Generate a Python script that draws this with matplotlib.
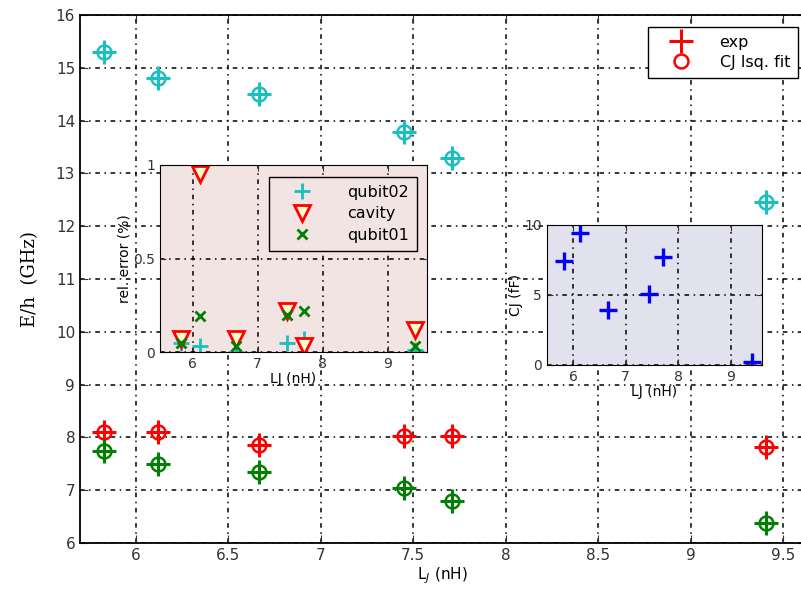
import matplotlib
matplotlib.use('Agg')
import matplotlib.pyplot as plt
from matplotlib.lines import Line2D

# data
lj = [5.83, 6.12, 6.67, 7.45, 7.71, 9.41]
e_qubit02 = [15.3, 14.8, 14.5, 13.78, 13.29, 12.46]
e_cavity = [8.1, 8.1, 7.85, 8.02, 8.02, 7.82]
e_qubit01 = [7.75, 7.5, 7.35, 7.05, 6.8, 6.38]

err_qubit02 = [0.05, 0.03, 0.0, 0.05, 0.07, 0.01]
err_cavity = [0.07, 0.95, 0.07, 0.22, 0.03, 0.12]
err_qubit01 = [0.05, 0.19, 0.03, 0.2, 0.22, 0.03]

cj = [7.4, 9.4, 3.9, 5.1, 7.7, 0.2]

cyan = (0.1, 0.75, 0.75)
red = (1.0, 0.0, 0.0)
green = (0.0, 0.5, 0.0)
blue = (0.0, 0.0, 1.0)
grid_ls = (0, (3, 3, 1, 3))

plt.rcParams['font.family'] = 'DejaVu Sans'
fig = plt.figure(figsize=(8.01, 5.98), dpi=100)

# main axes
ax = fig.add_axes([80 / 801, 55 / 598, 725 / 801, 528 / 598])
for y, c in [(e_qubit02, cyan), (e_cavity, red), (e_qubit01, green)]:
    ax.plot(lj, y, ls='none', marker='+', ms=17, mew=2.2, color=c)
    ax.plot(lj, y, ls='none', marker='o', ms=10, mew=1.8, mfc='none', color=c)
ax.set_xlim(5.7, 5.7 + 725 / 185)
ax.set_ylim(6, 16)
ax.set_xticks([6, 6.5, 7, 7.5, 8, 8.5, 9, 9.5])
ax.set_xticklabels(['6', '6.5', '7', '7.5', '8', '8.5', '9', '9.5'])
ax.set_yticks(range(6, 17))
ax.tick_params(direction='in', top=True, right=True, length=6, labelsize=11, colors='#333333')
ax.grid(True, color='black', linestyle=grid_ls, linewidth=1.1)
ax.set_xlabel('L$_J$ (nH)', fontsize=11, labelpad=2)
ax.set_ylabel('E/h  (GHz)', fontsize=13, family='DejaVu Serif', labelpad=12)
for s in ax.spines.values():
    s.set_linewidth(1.3)
handles = [Line2D([], [], ls='none', marker='+', ms=17, mew=2.2, color=red),
           Line2D([], [], ls='none', marker='o', ms=10, mew=1.8, mfc='none', color=red)]
ax.legend(handles, ['exp', 'CJ lsq. fit'], loc='upper right',
          bbox_to_anchor=(798 / 801, 1 - 27 / 598), bbox_transform=fig.transFigure,
          borderaxespad=0, fancybox=False, edgecolor='black', framealpha=1, fontsize=11.5,
          handlelength=3.2, handletextpad=0.8, borderpad=0.5, labelspacing=0.3)

# inset 1: relative error
ax1 = fig.add_axes([160 / 801, 246 / 598, 267 / 801, 187 / 598])
ax1.set_facecolor('#f3e4e4')
ax1.plot(lj, err_qubit02, ls='none', marker='+', ms=11, mew=2, color=cyan, label='qubit02')
ax1.plot(lj, err_cavity, ls='none', marker='v', ms=11, mew=2, mfc=(1, 1, 0.8), color=red, label='cavity')
ax1.plot(lj, err_qubit01, ls='none', marker='x', ms=7, mew=2, color=green, label='qubit01')
ax1.set_xlim(5.5, 9.6)
ax1.set_ylim(0, 1)
ax1.set_xticks([6, 7, 8, 9])
ax1.set_yticks([0, 0.5, 1])
ax1.set_yticklabels(['0', '0.5', '1'])
ax1.tick_params(direction='in', top=True, right=True, length=4, labelsize=10, colors='#333333')
ax1.grid(True, color='black', linestyle=grid_ls, linewidth=1.1)
ax1.set_xlabel('LJ (nH)', fontsize=10, labelpad=1)
ax1.set_ylabel('rel. error (%)', fontsize=10, labelpad=1)
ax1.legend(loc='upper right', fancybox=False, edgecolor='black', framealpha=1, facecolor='#f3e4e4',
           fontsize=11.5, handlelength=3.2, handletextpad=1.2, borderpad=0.5, labelspacing=0.4,
           borderaxespad=0, bbox_to_anchor=(417 / 801, 1 - 177 / 598), bbox_transform=fig.transFigure)

# inset 2: fitted CJ
ax2 = fig.add_axes([547 / 801, 233 / 598, 215 / 801, 140 / 598])
ax2.set_facecolor('#e2e2ee')
ax2.plot(lj, cj, ls='none', marker='+', ms=13, mew=2.4, color=blue)
ax2.set_xlim(5.5, 9.6)
ax2.set_ylim(0, 10)
ax2.set_xticks([6, 7, 8, 9])
ax2.set_yticks([0, 5, 10])
ax2.tick_params(direction='in', top=True, right=True, length=4, labelsize=10, colors='#333333')
ax2.grid(True, color='black', linestyle=grid_ls, linewidth=1.1)
ax2.set_xlabel('LJ (nH)', fontsize=10, labelpad=1)
ax2.set_ylabel('CJ (fF)', fontsize=10, labelpad=1)

fig.savefig('out.png', dpi=100)
